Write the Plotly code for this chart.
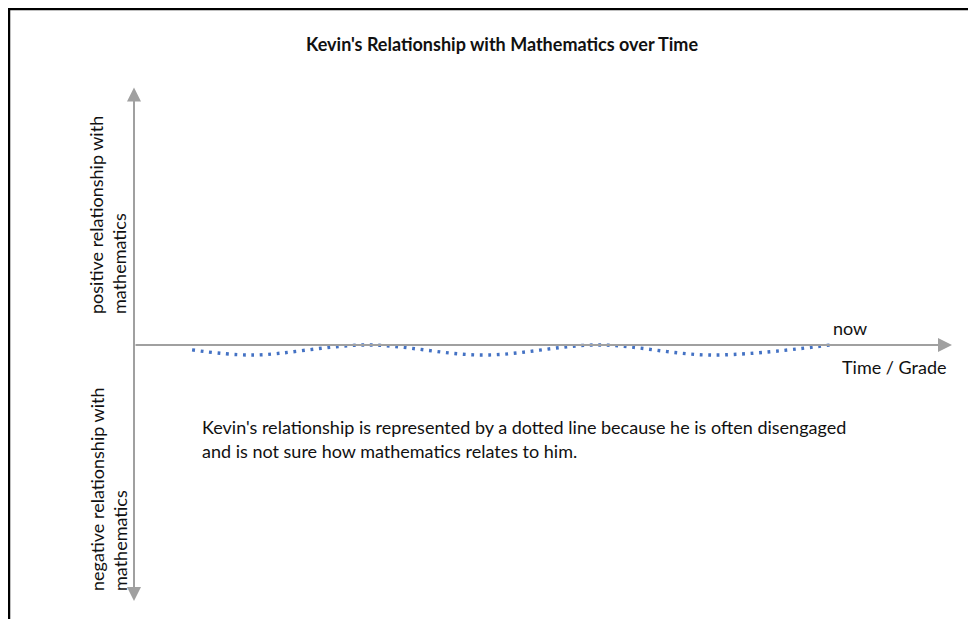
import plotly.graph_objects as go

# Kevin's relationship (time on x, relationship on y)
time_pts = [0.71, 1.44, 2.85, 4.27, 5.67, 7.07, 8.51]
relation_pts = [-0.19, -0.39, 0.0, -0.39, 0.0, -0.39, 0.0]

title_text = "<b>Kevin's Relationship with Mathematics over Time</b>"
pos_label = "positive relationship with<br>mathematics"
neg_label = "negative relationship with<br>mathematics"
note_lines = [
    "Kevin's relationship is represented by a dotted line because he is often disengaged",
    "and is not sure how mathematics relates to him.",
]

W, H = 960, 611
FONT = "Lato"
GREY = "#a0a0a0"
TXT = "#111111"


def px(x):
    return x / W


def py(y):
    return 1 - y / H


def label(x, y, text, size=18, xanchor="center", **kw):
    return dict(x=px(x), y=py(y), xref="paper", yref="paper", text=text,
                xanchor=xanchor, yanchor="middle", showarrow=False,
                font=dict(family=FONT, size=size, color=TXT), **kw)


fig = go.Figure()
fig.add_trace(go.Scatter(
    x=time_pts, y=relation_pts, mode="lines",
    line=dict(color="#4472c4", width=3.4, dash="2.8px,5.7px", shape="spline"),
    hoverinfo="skip", showlegend=False,
))

annots = []
# axes as arrows
annots.append(dict(x=10, y=0, ax=0, ay=0, xref="x", yref="y", axref="x", ayref="y",
                   showarrow=True, arrowhead=2, arrowsize=1.4, arrowwidth=2,
                   arrowcolor=GREY, text=""))
annots.append(dict(x=0, y=10, ax=0, ay=-10, xref="x", yref="y", axref="x", ayref="y",
                   showarrow=True, arrowhead=2, startarrowhead=2, arrowside="end+start",
                   arrowsize=1.4, startarrowsize=1.4, arrowwidth=2,
                   arrowcolor=GREY, text=""))

annots.append(label(494, 36, title_text, size=18))
annots.append(label(842, 320, "now"))
annots.append(label(832, 359, "Time / Grade", xanchor="left"))
for i, line in enumerate(note_lines):
    annots.append(label(192, 419 + 24 * i, line, xanchor="left"))
annots.append(label(100, 207, pos_label, textangle=-90, align="left"))
annots.append(label(100, 481, neg_label, textangle=-90, align="left"))

fig.update_layout(
    width=W, height=H,
    margin=dict(l=0, r=0, t=0, b=0),
    paper_bgcolor="white", plot_bgcolor="white",
    xaxis=dict(range=[-126 / 81.8, (W - 126) / 81.8], visible=False, fixedrange=True),
    yaxis=dict(range=[-(H - 337) / 25.75, 337 / 25.75], visible=False, fixedrange=True),
    annotations=annots,
    shapes=[
        dict(type="line", xref="paper", yref="paper", x0=px(1), x1=px(1), y0=0, y1=1,
             line=dict(color="black", width=2.5)),
        dict(type="line", xref="paper", yref="paper", x0=0, x1=1, y0=py(1), y1=py(1),
             line=dict(color="black", width=2.5)),
    ],
)

fig.write_html("out.html", config={"displayModeBar": False})
